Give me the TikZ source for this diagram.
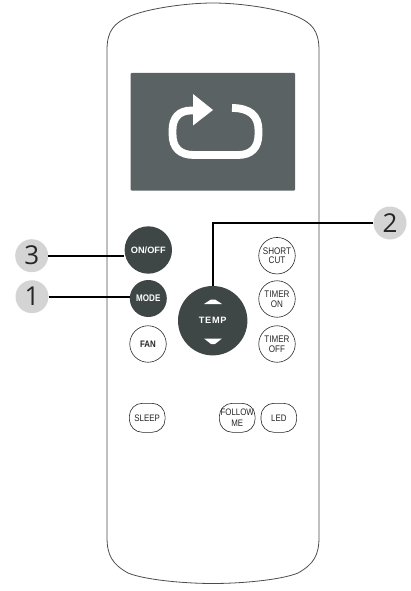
\documentclass[tikz,border=0pt]{standalone}
\usepackage{fontspec}
\setmainfont{Liberation Sans}
\newfontfamily\numfont{Open Sans}
\newfontfamily\btnfont{Liberation Sans}[FakeStretch=0.84]
\usetikzlibrary{positioning}
\definecolor{cPanel}{HTML}{5A6264}
\definecolor{cDark}{HTML}{3E4746}
\definecolor{cBadge}{HTML}{D4D4D4}
\begin{document}
\begin{tikzpicture}[x=1pt,y=-1pt,
  darkbtn/.style={circle,fill=cDark,inner sep=0pt,text=white,font=\fontsize{9.2}{10}\selectfont\bfseries},
  roundbtn/.style={circle,draw=black!85,fill=white,line width=.6pt,minimum size=36.5pt,inner sep=0pt,align=center,text=black!85,font=\fontsize{9.6}{9.8}\btnfont},
  pillbtn/.style={rectangle,rounded corners=13pt,draw=black!85,fill=white,line width=.6pt,minimum width=35.7pt,minimum height=29pt,inner sep=0pt,align=center,text=black!85,font=\fontsize{9.4}{11}\btnfont},
  badge/.style={circle,fill=cBadge,minimum size=33pt,inner sep=0pt,text=black!85,font=\fontsize{26}{28}\numfont},
  lead/.style={line width=1.9pt,black}]
\path[use as bounding box] (0,0) rectangle (410,591);
\draw[black!70,line width=.8pt] (107,50) .. controls (107,30) and (115,23) .. (128,17)
  .. controls (145,9) and (185,3) .. (213,3)
  .. controls (241,3) and (281,9) .. (298,17)
  .. controls (311,23) and (319,30) .. (319,50)
  -- (319,537) .. controls (319,555) and (314,564) .. (298,573)
  .. controls (281,580) and (241,583.5) .. (213,583.5)
  .. controls (185,583.5) and (145,580) .. (128,573)
  .. controls (112,564) and (107,555) .. (107,537) -- cycle;
\fill[cPanel,rounded corners=1pt] (130.7,73) rectangle (295,190.7);
\draw[white,line width=7.8pt] (196,110.5) -- (191,110.5) .. controls (179,110.5) and (172.5,118) .. (172.5,130)
  -- (172.5,134) .. controls (172.5,148) and (180,155) .. (194,155)
  -- (238,155) .. controls (251,155) and (258.5,148) .. (258.5,134)
  -- (258.5,130) .. controls (258.5,116) and (250,108) .. (232,108);
\fill[white] (193,94) -- (213,110) -- (193,125.5) -- cycle;
\node[darkbtn,minimum size=47.4pt] (onoff) at (148.3,250) {ON/OFF};
\node[darkbtn,minimum size=37pt,font=\fontsize{9.6}{10}\btnfont\bfseries] (mode) at (148.3,298.5) {MODE};
\node[darkbtn,minimum size=69.4pt] (temp) at (212.7,320.7) {\addfontfeature{LetterSpace=8}TEMP};
\fill[white] (204,304) -- (222,304) -- (215,299.5) -- (211,299.5) -- cycle;
\fill[white] (204,338.5) -- (222,338.5) -- (215,344) -- (211,344) -- cycle;
\node[roundbtn,font=\fontsize{9.4}{10}\btnfont\bfseries] (fan) at (148,344) {FAN};
\foreach \name/\px/\py/\lbl in {short/277/255.7/{SHORT\\CUT},timeron/277/299/{TIMER\\ON},timeroff/277/344/{TIMER\\OFF}}{
  \node[roundbtn] (\name) at (\px,\py) {\lbl};
}
\foreach \name/\px/\lbl in {sleep/147.2/{SLEEP},follow/237.2/{FOLLOW\\ME},led/278.8/{LED}}{
  \node[pillbtn] (\name) at (\px,417.8) {\lbl};
}
\node[badge] (numThree) at (31.7,255.7) {3};
\node[badge] (numOne) at (32,296.7) {1};
\node[badge] (numTwo) at (390,223) {2};
\draw[lead] (numThree.east) -- (numThree.east -| onoff.west);
\draw[lead] (numOne.east) -- (numOne.east -| mode.west);
\draw[lead] (numTwo.west) -| (temp.north);
\end{tikzpicture}
\end{document}
